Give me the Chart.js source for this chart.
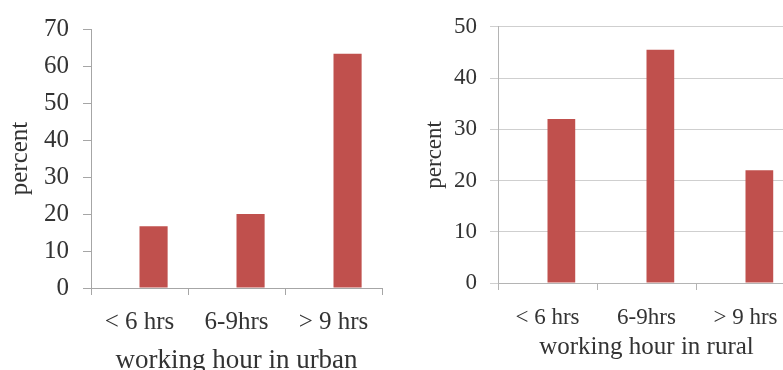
<!DOCTYPE html>
<html>
<head>
<meta charset="utf-8">
<script src="https://cdn.jsdelivr.net/npm/chart.js@4"></script>
<style>
  html, body { margin: 0; padding: 0; background: #fff; overflow: hidden; }
  body { width: 783px; height: 370px; position: relative; }
  .box { position: absolute; top: 0; }
  #leftBox { left: 0; width: 390px; height: 380px; }
  #rightBox { left: 400px; width: 400px; height: 380px; }
</style>
</head>
<body>
<div class="box" id="leftBox"><canvas id="urbanChart" width="390" height="380"></canvas></div>
<div class="box" id="rightBox"><canvas id="ruralChart" width="400" height="380"></canvas></div>
<script>
// categories (same for both panels)
const hourLabels = ['< 6 hrs', '6-9hrs', '> 9 hrs'];

// percent values
const urbanValues = [16.7, 20.0, 63.3];
const ruralValues = [32.0, 45.5, 22.0];

// y tick range
const urbanMax = 70;
const ruralMax = 50;
const tickStep = 10;

// empty first series, so the bars sit in the right half of each slot (like the Excel original)
const emptySeries = [null, null, null];

const barColor = '#c0504d';
const textColor = '#333333';
const serif = "'Liberation Serif', 'Times New Roman', serif";

function makeChart(ctx, opts) {
  return new Chart(ctx, {
    type: 'bar',
    data: {
      labels: hourLabels,
      datasets: [
        { label: 'blank', data: emptySeries, backgroundColor: barColor },
        { label: 'percent', data: opts.values, backgroundColor: barColor }
      ]
    },
    options: {
      responsive: false,
      animation: false,
      layout: { padding: { top: opts.padTop, right: opts.padRight, left: 0, bottom: 0 } },
      datasets: {
        bar: { categoryPercentage: opts.catPct, barPercentage: 1.0 }
      },
      plugins: {
        legend: { display: false },
        tooltip: { enabled: false }
      },
      scales: {
        x: {
          grid: {
            display: true,
            drawOnChartArea: false,
            drawTicks: true,
            tickLength: 7,
            color: opts.axisColor
          },
          border: { color: opts.axisColor, width: 1 },
          ticks: {
            color: textColor,
            padding: opts.xTickPad,
            font: { family: serif, size: opts.fontSize }
          },
          title: {
            display: true,
            text: opts.xTitle,
            color: textColor,
            padding: { top: 0, bottom: opts.xTitlePad },
            font: { family: serif, size: opts.titleSize }
          },
          afterFit: (scale) => { scale.height = opts.xHeight; }
        },
        y: {
          min: 0,
          max: opts.max,
          ticks: {
            stepSize: tickStep,
            color: textColor,
            padding: opts.yTickPad,
            font: { family: serif, size: opts.fontSize }
          },
          grid: {
            drawOnChartArea: opts.gridOn,
            drawTicks: true,
            tickLength: 8,
            color: opts.gridColor
          },
          border: { color: opts.axisColor, width: 1 },
          title: {
            display: true,
            text: 'percent',
            color: textColor,
            padding: { top: opts.yTitlePad, bottom: 0 },
            font: { family: serif, size: opts.fontSize }
          },
          afterFit: (scale) => { scale.width = opts.yWidth; }
        }
      }
    }
  });
}

// urban panel
makeChart(document.getElementById('urbanChart').getContext('2d'), {
  values: urbanValues,
  max: urbanMax,
  xTitle: 'working hour in urban',
  fontSize: 25,
  titleSize: 27,
  padTop: 29,
  padRight: 8,
  catPct: 0.58,
  axisColor: '#a6a6a6',
  gridColor: '#a6a6a6',
  gridOn: false,
  xHeight: 92,
  xTickPad: 12,
  xTitlePad: 3,
  yWidth: 91,
  yTickPad: 14,
  yTitlePad: 5
});

// rural panel (runs past the right edge of the page)
makeChart(document.getElementById('ruralChart').getContext('2d'), {
  values: ruralValues,
  max: ruralMax,
  xTitle: 'working hour in rural',
  fontSize: 23,
  titleSize: 25,
  padTop: 20,
  padRight: 5,
  catPct: 0.56,
  axisColor: '#b4b4b4',
  gridColor: '#cfcfcf',
  gridOn: true,
  xHeight: 97,
  xTickPad: 14,
  xTitlePad: 18,
  yWidth: 98,
  yTickPad: 13,
  yTitlePad: 21
});
</script>
</body>
</html>
